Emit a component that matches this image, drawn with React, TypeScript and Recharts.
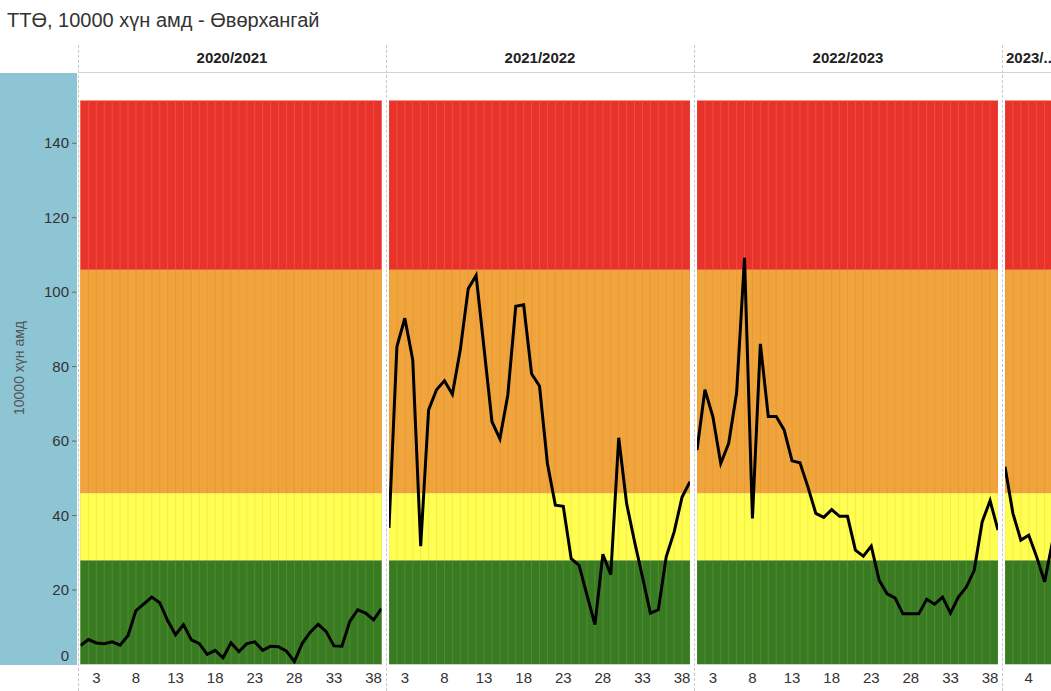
import React from 'react';
import { ComposedChart, Line, XAxis, YAxis, ReferenceArea, ReferenceLine } from 'recharts';

const weeks = [1, 2, 3, 4, 5, 6, 7, 8, 9, 10, 11, 12, 13, 14, 15, 16, 17, 18, 19, 20,
  21, 22, 23, 24, 25, 26, 27, 28, 29, 30, 31, 32, 33, 34, 35, 36, 37, 38, 39];

const seasons = ['2020/2021', '2021/2022', '2022/2023', '2023/...'];

const season2021 = [5.1, 6.7, 5.8, 5.6, 6.1, 5.2, 7.8, 14.5, 16.3, 18.1, 16.6, 11.8, 8.0, 10.7, 6.6, 5.6, 2.7, 3.8, 1.8, 5.8,
  3.5, 5.6, 6.1, 3.8, 4.9, 4.8, 3.6, 0.8, 5.7, 8.7, 10.8, 8.9, 5.0, 4.9, 11.6, 14.7, 13.8, 12.0, 15.0];
const season2122 = [36.7, 85.4, 93.0, 81.8, 31.8, 68.4, 73.8, 76.2, 72.6, 84.5, 100.9, 104.5, 84.9, 65.2, 60.6, 72.4, 96.2, 96.6, 78.1, 74.8,
  54.0, 42.8, 42.5, 28.4, 26.6, 18.6, 10.7, 29.6, 24.1, 60.9, 43.2, 33.0, 23.5, 13.8, 14.7, 28.9, 35.6, 45.0, 49.1];
const season2223 = [57.6, 73.8, 66.6, 54.0, 59.4, 72.9, 109.2, 39.2, 86.1, 66.6, 66.6, 63.0, 54.7, 54.2, 47.7, 40.6, 39.5, 41.6, 39.8, 39.8,
  30.7, 29.1, 31.8, 22.6, 19.0, 17.9, 13.6, 13.6, 13.6, 17.5, 16.2, 18.1, 13.8, 18.1, 20.8, 25.3, 38.3, 44.0, 36.1];
const season2324 = [53.1, 40.6, 33.4, 34.7, 28.9, 22.2, 33.0];

// threshold levels: green / yellow / orange / red
const bandLimits = [0, 28, 46, 106, 151.5];
const bandColors = ['#387b22', '#ffff52', '#f0a43c', '#e8332a'];
const stripeColors = ['#5e9330', '#f0e24a', '#e8953a', '#ef5a4a'];

const yTicks = [0, 20, 40, 60, 80, 100, 120, 140];
const xTicksMain = [3, 8, 13, 18, 23, 28, 33, 38];
const xTicksLast = [4, 9, 14, 19, 24, 29, 34, 39];

const PLOT_X0 = 80.5;
const PERIOD = 308.2;
const PLOT_W = 301;
const SEPARATORS = [78, 386, 694, 1002];
const FONT = '"Liberation Sans", Arial, sans-serif';

const YTick = (props: any) => {
  const { x, y, payload } = props;
  const isZero = payload.value === 0;
  return (
    <g>
      {!isZero && <line x1={x - 8.5} x2={x - 4} y1={y} y2={y} stroke="#666" />}
      <text x={x - 11.5} y={isZero ? y - 9 : y} dy={5} textAnchor="end" fontSize={15} fill="#333">
        {payload.value}
      </text>
    </g>
  );
};

const SeasonPanel = ({ index, values, ticks }: { index: number; values: number[]; ticks: number[] }) => {
  const first = index === 0;
  const plotLeft = PLOT_X0 + index * PERIOD;
  const left = first ? 0 : plotLeft;
  const width = first ? plotLeft + PLOT_W : PLOT_W;
  const data = weeks.map((w, i) => ({ week: w, value: i < values.length ? values[i] : null }));

  return (
    <div style={{ position: 'absolute', left, top: 0 }}>
      <ComposedChart width={width} height={691} data={data} margin={{ top: 72.5, right: 0, bottom: 0, left: 0 }}>
        <XAxis
          dataKey="week"
          type="number"
          domain={[1, 39]}
          ticks={ticks}
          interval={0}
          height={26.5}
          tickLine={false}
          axisLine={{ stroke: '#cfcfcf' }}
          tick={{ fontSize: 15, fill: '#333' }}
          allowDataOverflow
        />
        <YAxis
          hide={!first}
          width={plotLeft}
          domain={[0, 159]}
          ticks={yTicks}
          interval={0}
          axisLine={false}
          tickLine={false}
          tickSize={0}
          tickMargin={0}
          tick={<YTick />}
          allowDataOverflow
        />
        {bandColors.map((c, b) => (
          <ReferenceArea key={'band' + b} x1={1} x2={39} y1={bandLimits[b]} y2={bandLimits[b + 1]} fill={c} fillOpacity={1} stroke="none" />
        ))}
        {bandColors.map((_, b) =>
          weeks.map((w) => (
            <ReferenceLine
              key={'s' + b + '-' + w}
              segment={[{ x: w, y: bandLimits[b] }, { x: w, y: bandLimits[b + 1] }]}
              stroke={stripeColors[b]}
              strokeWidth={0.7}
            />
          ))
        )}
        <Line
          dataKey="value"
          type="linear"
          stroke="#000"
          strokeWidth={3}
          dot={false}
          activeDot={false}
          isAnimationActive={false}
        />
      </ComposedChart>
    </div>
  );
};

const panelValues = [season2021, season2122, season2223, season2324];

export default function App() {
  return (
    <div style={{ position: 'fixed', left: 0, top: 0, width: 1051, height: 691, overflow: 'hidden', background: '#fff', fontFamily: FONT }}>
      <div style={{ position: 'absolute', left: 7, top: 8, fontSize: 20, color: '#333', whiteSpace: 'nowrap', lineHeight: '24px' }}>
        ТТӨ, 10000 хүн амд - Өвөрхангай
      </div>
      <div style={{ position: 'absolute', left: 0, top: 72.5, width: 77.3, height: 592.5, background: '#8ec5d4' }} />
      <div
        style={{
          position: 'absolute', left: 19, top: 368, fontSize: 14, color: '#555', whiteSpace: 'nowrap',
          transform: 'translate(-50%, -50%) rotate(-90deg)',
        }}
      >
        10000 хүн амд
      </div>
      <div style={{ position: 'absolute', left: 78, top: 72, width: 973, height: 1, background: '#d4d4d4' }} />
      {seasons.map((s, i) => {
        const last = i === seasons.length - 1;
        const l = SEPARATORS[i];
        const r = last ? 1051 : SEPARATORS[i + 1];
        return (
          <div
            key={s}
            style={{
              position: 'absolute', left: l + 4, top: 48, width: last ? r - l - 4 : r - l - 8, textAlign: last ? 'left' : 'center',
              fontSize: 15, fontWeight: 'bold', color: '#222', whiteSpace: 'nowrap', overflow: 'hidden', lineHeight: '20px',
            }}
          >
            {s}
          </div>
        );
      })}
      {panelValues.map((v, i) => (
        <SeasonPanel key={i} index={i} values={v} ticks={i === 3 ? xTicksLast : xTicksMain} />
      ))}
      {SEPARATORS.map((x) => (
        <div key={x} style={{ position: 'absolute', left: x, top: 45, width: 0, height: 646, borderLeft: '1px dashed #c8c8c8' }} />
      ))}
    </div>
  );
}
